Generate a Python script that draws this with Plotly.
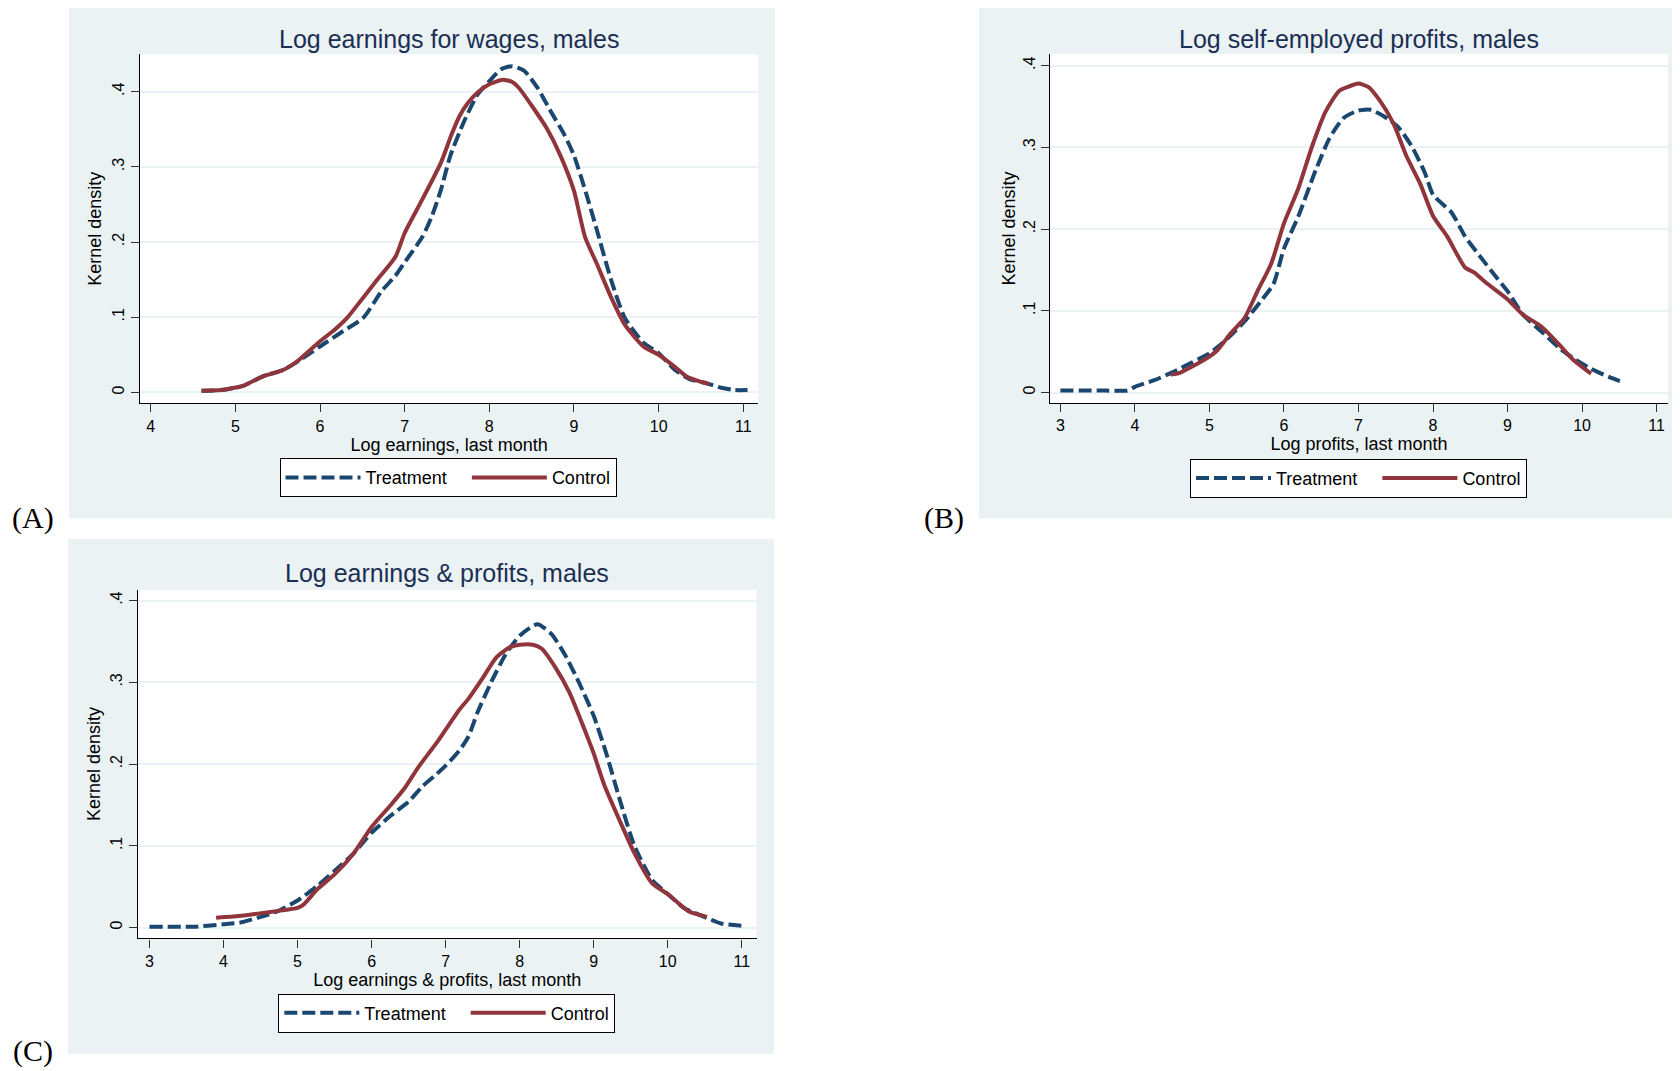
import plotly.graph_objects as go

# ---------------- data ----------------
# Panel A: Log earnings for wages, males
a_treat_x = [4.60, 4.83, 4.99, 5.10, 5.32, 5.57, 5.75, 6.00, 6.24, 6.51, 6.73, 6.89, 7.00, 7.21, 7.32,
             7.43, 7.54, 7.70, 7.86, 8.00, 8.14, 8.27, 8.41, 8.57, 8.73, 8.89, 9.00, 9.14, 9.27, 9.44,
             9.60, 9.82, 10.00, 10.19, 10.36, 10.57, 10.74, 10.90, 11.05]
a_treat_y = [0.002, 0.003, 0.006, 0.009, 0.021, 0.030, 0.042, 0.061, 0.079, 0.099, 0.135, 0.155, 0.173,
             0.207, 0.234, 0.270, 0.315, 0.360, 0.396, 0.414, 0.430, 0.434, 0.428, 0.405, 0.373, 0.342,
             0.315, 0.266, 0.216, 0.149, 0.099, 0.066, 0.052, 0.030, 0.018, 0.012, 0.006, 0.003, 0.003]
a_ctrl_x = [4.60, 4.83, 4.99, 5.10, 5.32, 5.57, 5.75, 6.00, 6.18, 6.32, 6.51, 6.67, 6.89, 7.00, 7.21,
            7.43, 7.55, 7.65, 7.74, 7.86, 8.00, 8.16, 8.27, 8.35, 8.51, 8.68, 8.84, 9.00, 9.13, 9.27,
            9.44, 9.60, 9.82, 10.00, 10.19, 10.33, 10.50, 10.60]
a_ctrl_y = [0.002, 0.003, 0.006, 0.009, 0.021, 0.030, 0.043, 0.068, 0.084, 0.099, 0.126, 0.149, 0.180,
            0.212, 0.257, 0.306, 0.342, 0.368, 0.384, 0.399, 0.410, 0.416, 0.413, 0.405, 0.380, 0.351,
            0.315, 0.268, 0.207, 0.171, 0.126, 0.090, 0.061, 0.050, 0.034, 0.021, 0.014, 0.011]

# Panel B: Log self-employed profits, males
b_treat_x = [3.00, 3.50, 3.90, 4.00, 4.26, 4.51, 4.75, 5.00, 5.23, 5.47, 5.71, 5.86, 6.00, 6.19, 6.43,
             6.61, 6.80, 7.00, 7.16, 7.34, 7.53, 7.71, 7.89, 8.00, 8.25, 8.43, 8.67, 8.85, 9.00, 9.21,
             9.45, 9.70, 9.88, 10.12, 10.36, 10.54]
b_treat_y = [0.0025, 0.0025, 0.0025, 0.007, 0.015, 0.025, 0.036, 0.048, 0.065, 0.087, 0.114, 0.133,
             0.176, 0.215, 0.273, 0.311, 0.336, 0.345, 0.346, 0.338, 0.325, 0.302, 0.269, 0.242, 0.220,
             0.191, 0.162, 0.141, 0.124, 0.095, 0.075, 0.054, 0.042, 0.029, 0.019, 0.013]
b_ctrl_x = [4.48, 4.57, 4.75, 5.00, 5.11, 5.29, 5.47, 5.65, 5.83, 6.00, 6.19, 6.38, 6.56, 6.74, 6.86,
            7.00, 7.13, 7.28, 7.47, 7.64, 7.83, 8.00, 8.19, 8.43, 8.55, 8.73, 9.00, 9.21, 9.45, 9.70,
            9.88, 10.12]
b_ctrl_y = [0.022, 0.023, 0.031, 0.044, 0.052, 0.073, 0.091, 0.125, 0.158, 0.207, 0.249, 0.302, 0.344,
            0.369, 0.374, 0.378, 0.374, 0.358, 0.329, 0.290, 0.255, 0.216, 0.191, 0.153, 0.147, 0.133,
            0.114, 0.095, 0.081, 0.058, 0.040, 0.023]

# Panel C: Log earnings & profits, males
c_treat_x = [3.00, 3.59, 4.00, 4.22, 4.46, 4.71, 5.00, 5.27, 5.51, 5.76, 6.00, 6.26, 6.50, 6.69, 6.87,
             7.00, 7.19, 7.31, 7.43, 7.62, 7.81, 8.00, 8.24, 8.43, 8.61, 8.80, 9.00, 9.17, 9.36, 9.55,
             9.79, 10.00, 10.22, 10.47, 10.72, 11.00]
c_treat_y = [0.001, 0.001, 0.004, 0.006, 0.012, 0.019, 0.033, 0.051, 0.070, 0.091, 0.116, 0.137, 0.154,
             0.173, 0.187, 0.198, 0.217, 0.234, 0.263, 0.301, 0.334, 0.357, 0.371, 0.359, 0.334, 0.300,
             0.259, 0.213, 0.154, 0.100, 0.058, 0.041, 0.024, 0.014, 0.005, 0.002]
c_ctrl_x = [3.90, 4.21, 4.46, 4.71, 5.00, 5.08, 5.27, 5.51, 5.76, 6.00, 6.26, 6.45, 6.63, 6.87, 7.00,
            7.19, 7.31, 7.50, 7.68, 7.87, 8.00, 8.18, 8.30, 8.49, 8.67, 8.86, 9.00, 9.14, 9.36, 9.55,
            9.79, 10.00, 10.28, 10.53]
c_ctrl_y = [0.012, 0.014, 0.017, 0.020, 0.024, 0.028, 0.047, 0.066, 0.091, 0.123, 0.150, 0.171, 0.196,
            0.225, 0.242, 0.267, 0.280, 0.305, 0.330, 0.343, 0.346, 0.346, 0.341, 0.317, 0.288, 0.246,
            0.213, 0.175, 0.129, 0.091, 0.054, 0.041, 0.020, 0.013]

titles = ["Log earnings for wages, males", "Log self-employed profits, males", "Log earnings & profits, males"]
xtitles = ["Log earnings, last month", "Log profits, last month", "Log earnings & profits, last month"]
ytitle = "Kernel density"
panel_labels = ["(A)", "(B)", "(C)"]
series_names = ["Treatment", "Control"]
y_tickvals = [0, 0.1, 0.2, 0.3, 0.4]
y_ticktext = ["0", ".1", ".2", ".3", ".4"]
a_xticks = [4, 5, 6, 7, 8, 9, 10, 11]
bc_xticks = [3, 4, 5, 6, 7, 8, 9, 10, 11]

# ---------------- styling / layout ----------------
NAVY = "#1A476F"
MAROON = "#90353B"
BG = "#EAF2F3"
TITLE_C = "#1C2E54"
FONT = "Liberation Sans, Arial, sans-serif"
SERIF = "Liberation Serif, Times New Roman, serif"

# the page body has an 8px margin: work in window pixels and convert
OFF = 8
W, H = 1680 - OFF, 1071 - OFF


def fx(s):
    return (s - OFF) / W


def fy(s):
    return 1 - (s - OFF) / H


panels = [
    dict(ax="", data=(a_treat_x, a_treat_y, a_ctrl_x, a_ctrl_y), xticks=a_xticks,
         plot_x=(140, 758.3), plot_y=(54.3, 403.3), xr=(3.874, 11.177), yr=(-0.0146, 0.4498),
         bg_x=(69, 775), bg_y=(4, 518.5), title_xy=(448.5, 39), legend="legend",
         leg_xy=(448, 477.7), lab_xy=(33, 518), ytitle_x=95),
    dict(ax="2", data=(b_treat_x, b_treat_y, b_ctrl_x, b_ctrl_y), xticks=bc_xticks,
         plot_x=(1050.1, 1668), plot_y=(54.1, 403.0), xr=(2.862, 11.153), yr=(-0.01285, 0.4141),
         bg_x=(979, 1680), bg_y=(4, 518.5), title_xy=(1359, 39), legend="legend2",
         leg_xy=(1358.5, 478.4), lab_xy=(944, 518), ytitle_x=1009),
    dict(ax="3", data=(c_treat_x, c_treat_y, c_ctrl_x, c_ctrl_y), xticks=bc_xticks,
         plot_x=(138, 756.5), plot_y=(589.7, 938.4), xr=(2.845, 11.199), yr=(-0.0133, 0.4133),
         bg_x=(68, 774), bg_y=(539, 1054), title_xy=(446.6, 573), legend="legend3",
         leg_xy=(446.8, 1013.1), lab_xy=(33, 1051), ytitle_x=94),
]

NBSP = "\u00a0"
legend_labels = [series_names[0] + NBSP * 3, series_names[1]]

fig = go.Figure()
shapes = []
annotations = []
layout = dict(
    width=W, height=H, margin=dict(l=0, r=0, t=0, b=0),
    paper_bgcolor="white", plot_bgcolor="white",
    font=dict(family=FONT, color="black"),
)

for i, p in enumerate(panels):
    tx, ty, cx, cy = p["data"]
    xa = "x" + p["ax"]
    ya = "y" + p["ax"]
    fig.add_trace(go.Scatter(x=tx, y=ty, mode="lines", name=legend_labels[0], xaxis=xa, yaxis=ya,
                             line=dict(color=NAVY, width=4, dash="13px,5px", shape="spline", smoothing=0.6),
                             legend=p["legend"], hoverinfo="skip"))
    fig.add_trace(go.Scatter(x=cx, y=cy, mode="lines", name=legend_labels[1], xaxis=xa, yaxis=ya,
                             line=dict(color=MAROON, width=4, shape="spline", smoothing=0.6),
                             legend=p["legend"], hoverinfo="skip"))

    layout["xaxis" + p["ax"]] = dict(
        domain=[fx(p["plot_x"][0]), fx(p["plot_x"][1])], range=list(p["xr"]), anchor=ya,
        tickvals=p["xticks"], ticks="outside", ticklen=8, tickwidth=1.2, tickcolor="#333333",
        showline=True, linecolor="black", linewidth=1.3, showgrid=False, zeroline=False,
        tickfont=dict(size=16, family=FONT, color="black"),
        title=dict(text=xtitles[i], font=dict(size=18, family=FONT, color="black"), standoff=2),
        fixedrange=True,
    )
    layout["yaxis" + p["ax"]] = dict(
        domain=[fy(p["plot_y"][1]), fy(p["plot_y"][0])], range=list(p["yr"]), anchor=xa,
        tickvals=y_tickvals, ticktext=y_ticktext, tickangle=-90,
        ticks="outside", ticklen=8, tickwidth=1.2, tickcolor="#333333",
        showline=True, linecolor="black", linewidth=1.3,
        showgrid=True, gridcolor=BG, gridwidth=1.6, zeroline=False,
        tickfont=dict(size=16, family=FONT, color="black"),
        fixedrange=True,
    )
    layout[p["legend"]] = dict(
        x=fx(p["leg_xy"][0]), y=fy(p["leg_xy"][1]), xanchor="center", yanchor="middle",
        orientation="h", bgcolor="white", bordercolor="black", borderwidth=1,
        font=dict(size=18, family=FONT, color="black"), itemwidth=75,
        itemclick=False, itemdoubleclick=False,
    )
    # panel background and white plot region
    shapes.append(dict(type="rect", xref="paper", yref="paper", layer="below",
                       x0=fx(p["bg_x"][0]), x1=fx(p["bg_x"][1]), y0=fy(p["bg_y"][1]), y1=fy(p["bg_y"][0]),
                       fillcolor=BG, line=dict(width=0)))
    shapes.append(dict(type="rect", xref="paper", yref="paper", layer="below",
                       x0=fx(p["plot_x"][0]), x1=fx(p["plot_x"][1]), y0=fy(p["plot_y"][1]), y1=fy(p["plot_y"][0]),
                       fillcolor="white", line=dict(width=0)))
    annotations.append(dict(text=titles[i], xref="paper", yref="paper", showarrow=False,
                            x=fx(p["title_xy"][0]), y=fy(p["title_xy"][1]), xanchor="center", yanchor="middle",
                            font=dict(size=25, family=FONT, color=TITLE_C)))
    annotations.append(dict(text=ytitle, xref="paper", yref="paper", showarrow=False, textangle=-90,
                            x=fx(p["ytitle_x"]), y=fy((p["plot_y"][0] + p["plot_y"][1]) / 2),
                            xanchor="center", yanchor="middle",
                            font=dict(size=18, family=FONT, color="black")))
    annotations.append(dict(text=panel_labels[i], xref="paper", yref="paper", showarrow=False,
                            x=fx(p["lab_xy"][0]), y=fy(p["lab_xy"][1]), xanchor="center", yanchor="middle",
                            font=dict(size=30, family=SERIF, color="black")))

layout["shapes"] = shapes
layout["annotations"] = annotations
fig.update_layout(**layout)

fig.write_html("out.html")
